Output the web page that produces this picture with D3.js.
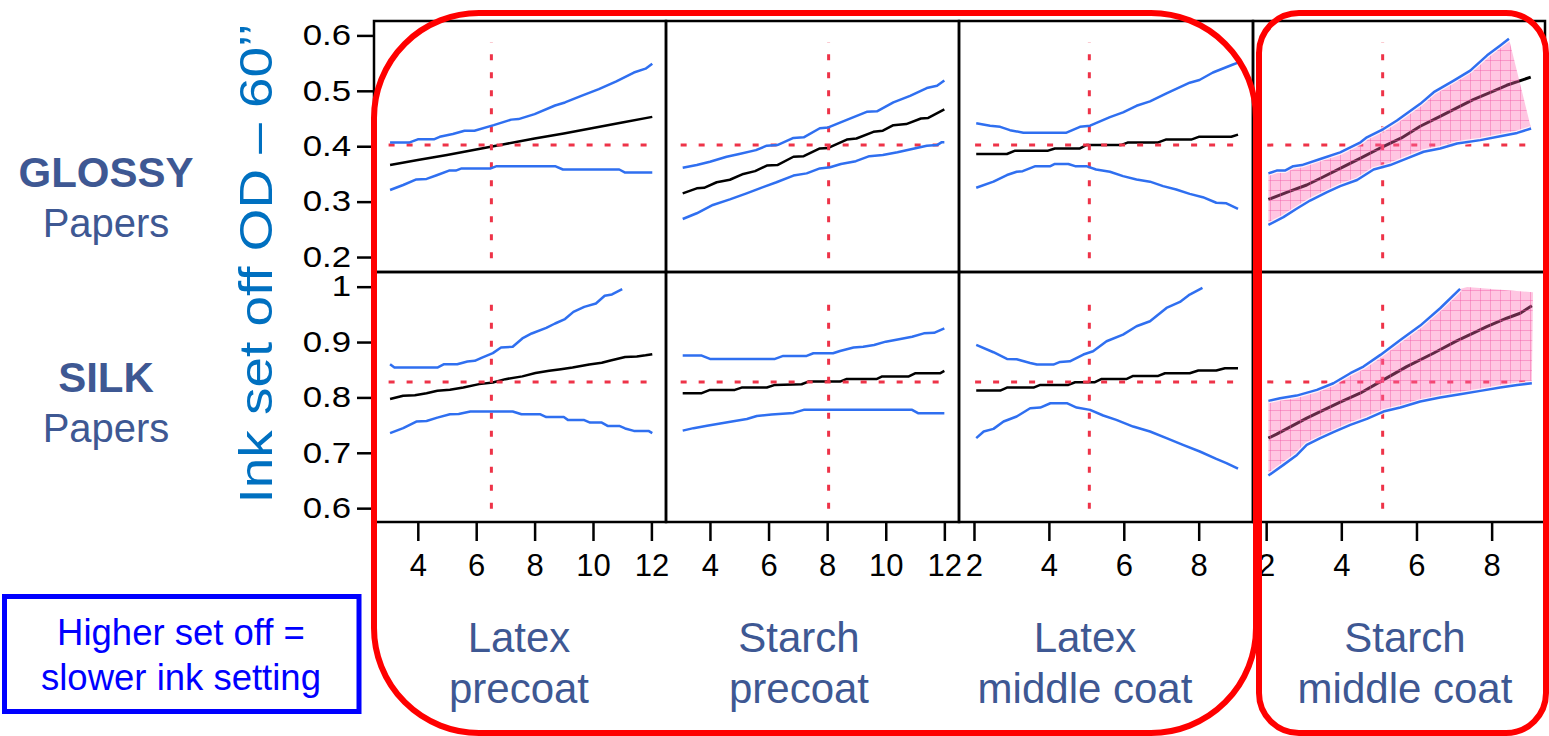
<!DOCTYPE html>
<html><head><meta charset="utf-8">
<script src="https://cdn.jsdelivr.net/npm/d3@7"></script>
<style>body{margin:0;background:#fff;} svg{display:block;font-family:"Liberation Sans",Arial,sans-serif;}</style>
</head><body><svg id="c" width="1549" height="736"></svg>
<script>
// ---------- categories / labels ----------
const rowNames = [["GLOSSY","Papers"],["SILK","Papers"]];
const colNames = [["Latex","precoat"],["Starch","precoat"],["Latex","middle coat"],["Starch","middle coat"]];
const yLabel = "Ink set off OD \u2013 60\u2019\u2019";
const legendLines = ["Higher set off =","slower ink setting"];
const xTicksA = [4,6,8,10,12];
const xTicksB = [2,4,6,8];
const yTicksTop = [0.2,0.3,0.4,0.5,0.6];
const yTicksBottom = [0.6,0.7,0.8,0.9,1];
const xDomains = [[2.5,12.5],[2.5,12.5],[1.6,9.45],[1.65,9.42]];
const yDomains = [[0.173,0.626],[0.575,1.0265]];
// reference (current setting) values
const refX = [6.52, 8.05, 5.08, 5.10];
const refY = [0.402, 0.828];
const refXSpan = [[3.0,12.05],[3.0,12.05],[2.03,9.1],[2.03,9.1]];
const refYSpan = [[0.198,0.588],[0.599,0.986]];

// ---------- GLOSSY series ----------
const gLatexPreMean = [[3.05,0.366],[4,0.375],[5,0.384],[6,0.394],[6.5,0.399],[7,0.404],[8,0.414],[9,0.423],[10,0.433],[11,0.443],[12.03,0.453]];
const gLatexPreUpper = [[3.05,0.4065],[3.7,0.4065],[4.0,0.4125],[4.55,0.4125],[4.75,0.417],[5.2,0.422],[5.6,0.428],[5.94,0.428],[6.6,0.438],[7.2,0.448],[7.45,0.449],[8.0,0.458],[8.7,0.4735],[9.04,0.479],[9.6,0.491],[10.2,0.503],[10.8,0.517],[11.4,0.533],[11.8,0.54],[12.03,0.549]];
const gLatexPreLower = [[3.05,0.321],[3.5,0.33],[3.95,0.34],[4.3,0.341],[4.67,0.348],[5.07,0.356],[5.3,0.356],[5.5,0.36],[6.5,0.36],[6.7,0.364],[8.7,0.364],[8.97,0.358],[10.9,0.358],[11.1,0.3525],[12.03,0.3525]];

const gStarchPreMean = [[3.07,0.315],[3.55,0.324],[3.8,0.325],[4.23,0.335],[4.68,0.3395],[5.14,0.35],[5.54,0.355],[5.94,0.365],[6.3,0.366],[6.85,0.381],[7.2,0.382],[7.75,0.396],[8.04,0.397],[8.67,0.412],[9.0,0.414],[9.58,0.426],[9.9,0.428],[10.26,0.438],[10.7,0.44],[11.2,0.45],[11.45,0.451],[12.0,0.4665]];
const gStarchPreUpper = [[3.07,0.361],[3.55,0.366],[4.0,0.372],[4.57,0.381],[5.0,0.386],[5.57,0.393],[5.94,0.401],[6.3,0.402],[6.85,0.415],[7.2,0.416],[7.75,0.4325],[8.04,0.434],[8.67,0.4475],[9.35,0.462],[9.7,0.463],[10.26,0.479],[10.83,0.491],[11.4,0.505],[11.75,0.509],[12.0,0.5185]];
const gStarchPreLower = [[3.07,0.2687],[3.55,0.279],[4.1,0.294],[4.68,0.304],[5.25,0.315],[5.7,0.324],[6.27,0.335],[6.85,0.347],[7.3,0.351],[7.75,0.36],[8.1,0.362],[8.47,0.368],[8.98,0.373],[9.44,0.382],[9.9,0.384],[10.4,0.389],[10.9,0.395],[11.4,0.401],[11.75,0.402],[11.9,0.407],[12.0,0.407]];

const gLatexMidMean = [[2.06,0.386],[2.88,0.386],[3.1,0.392],[3.98,0.392],[4.16,0.396],[4.83,0.396],[5.0,0.402],[5.92,0.402],[6.1,0.4065],[6.9,0.4065],[7.12,0.412],[7.8,0.412],[8.0,0.417],[8.87,0.417],[9.05,0.421]];
const gLatexMidUpper = [[2.06,0.4415],[2.43,0.437],[2.7,0.435],[2.96,0.429],[3.32,0.4245],[4.47,0.4245],[4.83,0.435],[5.1,0.437],[5.63,0.4525],[5.98,0.461],[6.34,0.473],[6.7,0.481],[7.14,0.4955],[7.76,0.5147],[8.02,0.5195],[8.38,0.533],[8.9,0.547],[9.05,0.551]];
const gLatexMidLower = [[2.06,0.325],[2.52,0.336],[2.88,0.348],[3.14,0.354],[3.3,0.355],[3.64,0.364],[4.04,0.364],[4.16,0.368],[4.52,0.368],[4.7,0.364],[5.0,0.364],[5.26,0.358],[5.63,0.354],[5.98,0.346],[6.34,0.34],[6.7,0.336],[7.05,0.328],[7.4,0.322],[7.76,0.314],[8.11,0.308],[8.47,0.298],[8.74,0.297],[9.05,0.287]];

const gStarchMidMean = [[2.06,0.304],[2.6,0.318],[3.08,0.33],[3.5,0.344],[3.97,0.36],[4.5,0.378],[5.1,0.399],[5.6,0.415],[6.1,0.436],[6.63,0.454],[7.1,0.47],[7.51,0.484],[8.0,0.498],[8.4,0.51],[9.04,0.5246]];
const gStarchMidUpper = [[2.06,0.351],[2.28,0.356],[2.5,0.356],[2.72,0.364],[2.95,0.366],[3.44,0.377],[3.97,0.389],[4.51,0.407],[4.68,0.416],[5.12,0.431],[5.48,0.4465],[6.1,0.4765],[6.46,0.4975],[6.99,0.5185],[7.43,0.5365],[7.88,0.564],[8.23,0.582],[8.46,0.594]];
const gStarchMidLower = [[2.06,0.258],[2.46,0.272],[2.82,0.2875],[3.17,0.302],[3.62,0.317],[3.97,0.328],[4.42,0.339],[4.86,0.358],[5.3,0.366],[5.75,0.378],[6.19,0.39],[6.63,0.396],[7.08,0.405],[7.7,0.411],[8.23,0.418],[8.68,0.424],[9.05,0.432]];

// ---------- SILK series ----------
const sLatexPreMean = [[3.05,0.797],[3.5,0.803],[3.9,0.804],[4.3,0.8075],[4.67,0.812],[5.1,0.814],[5.56,0.818],[6.1,0.824],[6.57,0.827],[7.0,0.833],[7.58,0.838],[8.03,0.844],[8.5,0.848],[8.9,0.851],[9.3,0.854],[9.87,0.8595],[10.3,0.8625],[10.6,0.8668],[11.1,0.873],[11.5,0.874],[11.8,0.876],[12.03,0.878]];
const sLatexPreUpper = [[3.05,0.86],[3.2,0.854],[4.67,0.854],[4.9,0.86],[5.35,0.86],[5.7,0.865],[5.95,0.866],[6.2,0.872],[6.57,0.88],[6.85,0.89],[7.25,0.8915],[7.58,0.9065],[7.9,0.9155],[8.4,0.9255],[8.7,0.9335],[9.04,0.9415],[9.33,0.9545],[9.7,0.9635],[10.1,0.9695],[10.4,0.9835],[10.65,0.986],[11.0,0.9955]];
const sLatexPreLower = [[3.05,0.7354],[3.5,0.7444],[3.95,0.7564],[4.3,0.7575],[4.67,0.7635],[5.1,0.7695],[5.4,0.770],[5.8,0.7745],[7.25,0.7745],[7.55,0.7695],[8.2,0.7695],[8.4,0.7645],[9.0,0.7645],[9.15,0.759],[9.7,0.759],[9.9,0.7545],[10.3,0.7545],[10.5,0.7485],[10.9,0.7485],[11.1,0.744],[11.4,0.7395],[11.9,0.7395],[12.03,0.7354]];

const sStarchPreMean = [[3.07,0.8076],[3.72,0.8076],[4.0,0.8136],[4.85,0.8136],[5.08,0.8178],[5.94,0.8178],[6.22,0.8226],[7.13,0.8238],[7.36,0.8286],[8.44,0.8286],[8.67,0.8334],[9.7,0.8334],[9.86,0.8376],[10.77,0.8376],[11.0,0.8436],[11.85,0.8436],[12.0,0.8478]];
const sStarchPreUpper = [[3.07,0.8755],[3.72,0.8755],[4.0,0.8695],[6.22,0.8695],[6.5,0.8749],[7.3,0.8749],[7.53,0.8797],[8.2,0.8797],[8.44,0.8839],[8.9,0.89],[9.23,0.8917],[9.6,0.8947],[10.0,0.9007],[10.5,0.9055],[10.9,0.9097],[11.3,0.9157],[11.65,0.9167],[12.0,0.9247]];
const sStarchPreLower = [[3.07,0.74],[3.44,0.7445],[3.9,0.749],[4.35,0.753],[4.8,0.757],[5.26,0.761],[5.6,0.7665],[6.1,0.769],[6.85,0.772],[7.2,0.7775],[10.9,0.7775],[11.1,0.7715],[12.0,0.7715]];

const sLatexMidMean = [[2.06,0.8123],[2.7,0.8123],[2.88,0.8177],[3.59,0.8177],[3.77,0.8226],[4.52,0.8226],[4.7,0.8274],[5.23,0.8274],[5.41,0.8334],[6.08,0.8334],[6.25,0.8388],[6.92,0.8388],[7.1,0.8436],[7.76,0.8436],[7.99,0.8485],[8.47,0.8485],[8.7,0.8527],[9.05,0.8527]];
const sLatexMidUpper = [[2.06,0.8948],[2.52,0.8816],[2.88,0.8695],[3.14,0.8689],[3.5,0.8623],[3.68,0.8593],[4.12,0.8593],[4.3,0.8641],[4.56,0.8653],[4.92,0.8774],[5.18,0.8834],[5.54,0.9014],[5.98,0.9134],[6.34,0.9285],[6.7,0.9375],[7.14,0.9616],[7.5,0.9725],[7.76,0.9857],[8.1,0.9977]];
const sLatexMidLower = [[2.06,0.7264],[2.26,0.7384],[2.52,0.7432],[2.79,0.7565],[3.14,0.7655],[3.5,0.7805],[3.77,0.7817],[4.04,0.7895],[4.48,0.7895],[4.74,0.7817],[5.1,0.7775],[5.45,0.7673],[5.8,0.7595],[6.25,0.7474],[6.7,0.7384],[7.14,0.7264],[7.58,0.7143],[8.03,0.7023],[8.47,0.6891],[8.74,0.6815],[9.05,0.6713]];

const sStarchMidMean = [[2.06,0.7264],[2.28,0.7336],[3.08,0.7625],[3.44,0.7745],[3.97,0.7914],[4.5,0.8076],[5.12,0.8317],[5.74,0.8557],[6.45,0.8798],[7.07,0.902],[7.51,0.916],[7.87,0.928],[8.4,0.943],[8.76,0.952],[9.07,0.9655]];
const sStarchMidUpper = [[2.06,0.7937],[2.37,0.7985],[2.81,0.8033],[3.35,0.8136],[3.79,0.8256],[4.24,0.8437],[4.59,0.8557],[5.04,0.8768],[5.57,0.9038],[6.1,0.9297],[6.63,0.961],[7.16,0.996]];
const sStarchMidLower = [[2.06,0.6589],[2.46,0.6782],[2.82,0.6962],[3.08,0.7143],[3.44,0.7264],[3.79,0.7372],[4.24,0.7505],[4.68,0.7613],[5.12,0.7745],[5.57,0.7817],[6.1,0.7925],[6.63,0.7997],[7.16,0.8058],[7.7,0.8118],[8.23,0.8178],[8.68,0.8226],[9.07,0.8256]];
const sStarchMidShadeTop = [[7.35,0.9995],[9.1,0.990]];

// ---------- assemble ----------
const panels = [
  [{mean:gLatexPreMean,upper:gLatexPreUpper,lower:gLatexPreLower},
   {mean:gStarchPreMean,upper:gStarchPreUpper,lower:gStarchPreLower},
   {mean:gLatexMidMean,upper:gLatexMidUpper,lower:gLatexMidLower},
   {mean:gStarchMidMean,upper:gStarchMidUpper,lower:gStarchMidLower,shade:true,shadeTop:[]}],
  [{mean:sLatexPreMean,upper:sLatexPreUpper,lower:sLatexPreLower},
   {mean:sStarchPreMean,upper:sStarchPreUpper,lower:sStarchPreLower},
   {mean:sLatexMidMean,upper:sLatexMidUpper,lower:sLatexMidLower},
   {mean:sStarchMidMean,upper:sStarchMidUpper,lower:sStarchMidLower,shade:true,shadeTop:sStarchMidShadeTop}]
];

// ---------- layout ----------
const colEdges = [374,666,959,1253,1545];
const rowEdges = [21,272,522];
const BLUE = "#2f6ff0", RED = "#ee3348";

const svg = d3.select("#c");
const defs = svg.append("defs");
const pat = defs.append("pattern").attr("id","pinkgrid").attr("patternUnits","userSpaceOnUse")
  .attr("width",10).attr("height",10);
pat.append("rect").attr("width",10).attr("height",10).attr("fill","rgba(255,105,180,0.38)");
pat.append("path").attr("d","M0,0.5H10M0.5,0V10").attr("stroke","rgba(240,80,160,0.4)").attr("stroke-width",1);

const xScales = xDomains.map((d,i)=>d3.scaleLinear().domain(d).range([colEdges[i],colEdges[i+1]]));
const yScales = yDomains.map((d,r)=>d3.scaleLinear().domain(d).range([rowEdges[r+1],rowEdges[r]]));

panels.forEach((row,r)=>{
  row.forEach((p,c)=>{
    const xs = xScales[c], ys = yScales[r];
    const g = svg.append("g");
    const line = d3.line().x(d=>xs(d[0])).y(d=>ys(d[1]));
    g.append("path").attr("d",line(p.mean)).attr("fill","none").attr("stroke","#000")
      .attr("stroke-width",p.shade?3:2.5).attr("stroke-linejoin","round");
    g.append("line").attr("x1",xs(refX[c])).attr("x2",xs(refX[c]))
      .attr("y1",ys(refYSpan[r][0])).attr("y2",ys(refYSpan[r][1]))
      .attr("stroke",RED).attr("stroke-width",3).attr("stroke-dasharray","6,12");
    g.append("line").attr("x1",xs(refXSpan[c][0])).attr("x2",xs(refXSpan[c][1]))
      .attr("y1",ys(refY[r])).attr("y2",ys(refY[r]))
      .attr("stroke",RED).attr("stroke-width",3).attr("stroke-dasharray","6,12");
    if(p.shade){
      const poly = p.upper.concat(p.shadeTop, p.lower.slice().reverse());
      g.append("path").attr("d",line(poly)+"Z")
        .attr("fill","url(#pinkgrid)").attr("stroke","none");
      [p.upper,p.lower].forEach(s=>{
        g.append("path").attr("d",line(s)).attr("fill","none").attr("stroke","#fff")
          .attr("stroke-width",5).attr("stroke-opacity",0.8);
      });
    }
    [p.upper,p.lower].forEach(s=>{
      g.append("path").attr("d",line(s)).attr("fill","none").attr("stroke",BLUE)
        .attr("stroke-width",2.5).attr("stroke-linejoin","round");
    });
    g.append("rect").attr("x",colEdges[c]).attr("y",rowEdges[r])
      .attr("width",colEdges[c+1]-colEdges[c]).attr("height",rowEdges[r+1]-rowEdges[r])
      .attr("fill","none").attr("stroke","#000").attr("stroke-width",2.5);
  });
});

// y axes
[yTicksTop,yTicksBottom].forEach((ticks,r)=>{
  const ax = svg.append("g").attr("transform",`translate(${colEdges[0]},0)`)
    .call(d3.axisLeft(yScales[r]).tickValues(ticks).tickSize(17).tickPadding(6)
      .tickFormat(d=>d===1?"1":d3.format(".1f")(d)));
  ax.select(".domain").remove();
  ax.selectAll(".tick line").attr("stroke","#000").attr("stroke-width",2.5);
  ax.selectAll(".tick text").attr("x",null).attr("fill","#000").attr("font-size",29)
    .attr("font-family","Liberation Sans, Arial, sans-serif")
    .attr("transform","translate(-23,0) scale(1.2,1)").attr("text-anchor","end");
});
// x axes
xScales.forEach((xs,c)=>{
  const ax = svg.append("g").attr("transform",`translate(0,${rowEdges[2]})`)
    .call(d3.axisBottom(xs).tickValues(c<2?xTicksA:xTicksB).tickSize(19).tickPadding(13).tickFormat(d3.format("d")));
  ax.select(".domain").remove();
  ax.selectAll(".tick line").attr("stroke","#000").attr("stroke-width",2.5);
  ax.selectAll(".tick text").attr("fill","#000").attr("font-size",31)
    .attr("font-family","Liberation Sans, Arial, sans-serif");
});

// row labels
const rowBase = [[187,237],[392,442]];
rowNames.forEach((nm,r)=>{
  svg.append("text").attr("x",106).attr("y",rowBase[r][0]).attr("text-anchor","middle")
    .attr("font-size",42).attr("font-weight","bold").attr("fill","#3e5893").text(nm[0]);
  svg.append("text").attr("x",106).attr("y",rowBase[r][1]).attr("text-anchor","middle")
    .attr("font-size",40).attr("fill","#3e5893").text(nm[1]);
});
// y label
svg.append("text").attr("transform","translate(272,263.5) rotate(-90)").attr("text-anchor","middle")
  .attr("font-size",46).attr("fill","#0070c0").attr("textLength",480).attr("lengthAdjust","spacingAndGlyphs")
  .text(yLabel);

// column labels
const colLabelX = [519,799,1085,1405];
colNames.forEach((nm,c)=>{
  svg.append("text").attr("x",colLabelX[c]).attr("y",652).attr("text-anchor","middle")
    .attr("font-size",42).attr("fill","#3e5893").text(nm[0]);
  svg.append("text").attr("x",colLabelX[c]).attr("y",703).attr("text-anchor","middle")
    .attr("font-size",42).attr("fill","#3e5893").text(nm[1]);
});

// red highlight boxes
svg.append("rect").attr("x",374).attr("y",13).attr("width",882).attr("height",720)
  .attr("rx",105).attr("ry",105).attr("fill","none").attr("stroke","#ff0000").attr("stroke-width",6);
svg.append("rect").attr("x",1259).attr("y",13).attr("width",287).attr("height",720)
  .attr("rx",40).attr("ry",40).attr("fill","none").attr("stroke","#ff0000").attr("stroke-width",6);

// legend box
svg.append("rect").attr("x",4.5).attr("y",596.5).attr("width",354.5).attr("height",115)
  .attr("fill","none").attr("stroke","#0000ff").attr("stroke-width",5);
legendLines.forEach((t,i)=>{
  svg.append("text").attr("x",181).attr("y",645+45*i).attr("text-anchor","middle")
    .attr("font-size",36.5).attr("fill","#0000ff").text(t);
});
</script></body></html>
